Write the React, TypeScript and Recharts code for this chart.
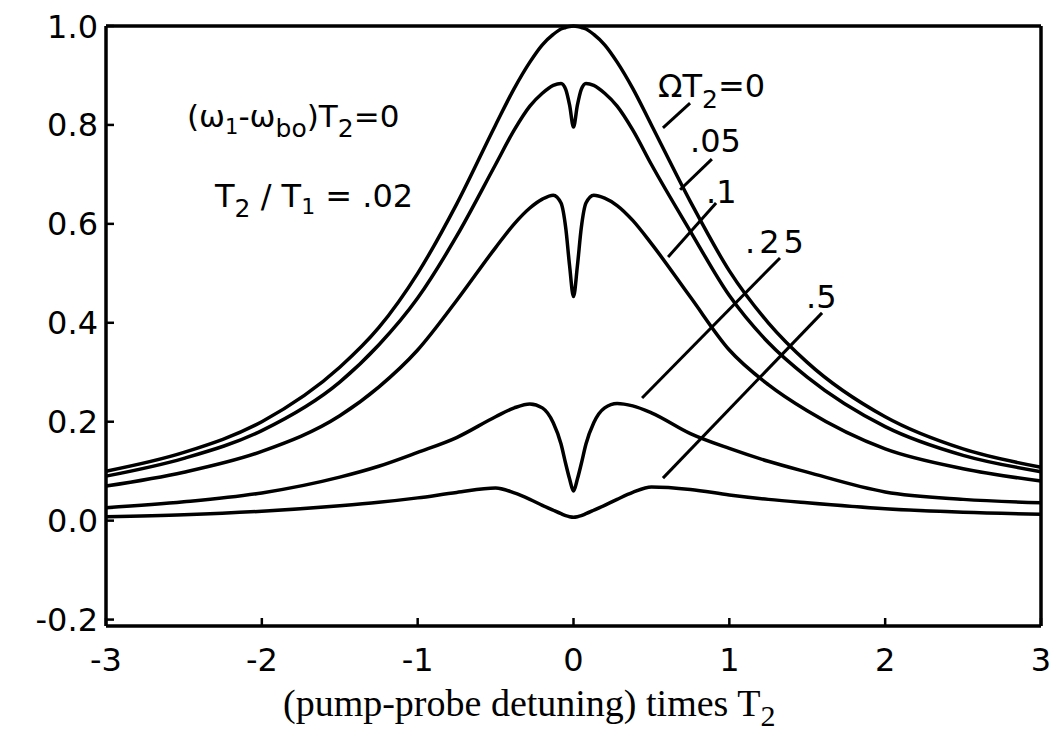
import React from "react";
import { LineChart, Line, XAxis, YAxis, ReferenceLine, Customized } from "recharts";

// detuning (x axis, units of 1/T2)
const detuning = [
  -3, -2.5, -2, -1.5, -1.25, -1, -0.75, -0.5, -0.38, -0.28, -0.2, -0.13, -0.08, -0.05, -0.025,
  0,
  0.025, 0.05, 0.08, 0.13, 0.2, 0.28, 0.38, 0.5, 0.75, 1, 1.25, 1.5, 2, 2.5, 3
];

// probe absorption for each pump strength ΩT2
const omega0 = [
  0.1, 0.138, 0.2, 0.31, 0.39, 0.5, 0.64, 0.8, 0.874, 0.927, 0.962, 0.983, 0.994, 0.997, 0.999,
  1.0,
  0.999, 0.997, 0.994, 0.983, 0.962, 0.927, 0.874, 0.8, 0.645, 0.505, 0.4, 0.32, 0.21, 0.145, 0.108
];
const omega05 = [
  0.09, 0.126, 0.182, 0.28, 0.355, 0.45, 0.575, 0.72, 0.79, 0.838, 0.864, 0.88, 0.884, 0.872, 0.84,
  0.796,
  0.84, 0.872, 0.884, 0.88, 0.864, 0.838, 0.79, 0.72, 0.585, 0.455, 0.36, 0.29, 0.19, 0.132, 0.099
];
const omega1 = [
  0.07, 0.098, 0.14, 0.212, 0.27, 0.345, 0.445, 0.552, 0.6, 0.632, 0.65, 0.658, 0.642, 0.592, 0.515,
  0.453,
  0.515, 0.592, 0.642, 0.658, 0.652, 0.637, 0.607, 0.56, 0.452, 0.345, 0.275, 0.222, 0.145, 0.105, 0.08
];
const omega25 = [
  0.026, 0.038, 0.056, 0.088, 0.11, 0.138, 0.168, 0.21, 0.228, 0.236, 0.228, 0.198, 0.155, 0.115, 0.084,
  0.06,
  0.084, 0.115, 0.155, 0.198, 0.228, 0.237, 0.232, 0.218, 0.176, 0.146, 0.12, 0.098, 0.058, 0.043, 0.036
];
const omega5 = [
  0.008, 0.012, 0.019, 0.03, 0.037, 0.046, 0.057, 0.066, 0.056, 0.043, 0.031, 0.021, 0.014, 0.01, 0.008,
  0.007,
  0.008, 0.01, 0.014, 0.021, 0.031, 0.043, 0.057, 0.068, 0.063, 0.052, 0.043, 0.036, 0.024, 0.017, 0.013
];

const xTicks = [-3, -2, -1, 0, 1, 2, 3];
const yTicks = [-0.2, 0, 0.2, 0.4, 0.6, 0.8, 1.0];

// leader lines from the curve labels, in data units
const leaders = [
  { name: "0", from: [0.748, 0.844], to: [0.574, 0.794] },
  { name: ".05", from: [0.888, 0.731], to: [0.684, 0.669] },
  { name: ".1", from: [0.915, 0.642], to: [0.607, 0.533] },
  { name: ".25", from: [1.325, 0.531], to: [0.44, 0.248] },
  { name: ".5", from: [1.595, 0.42], to: [0.574, 0.086] }
];

const data = detuning.map((x, i) => ({
  x,
  o0: omega0[i],
  o05: omega05[i],
  o1: omega1[i],
  o25: omega25[i],
  o5: omega5[i]
}));

const series = ["o0", "o05", "o1", "o25", "o5"];

const font = "DejaVu Sans, sans-serif";

// tick label plus a short inward tick mark
function XTick(props: any) {
  const { x, y, payload } = props;
  return (
    <g>
      <line x1={x} x2={x} y1={y - 22} y2={y - 30} stroke="#000" strokeWidth={2.5} />
      <text x={x} y={y} dy="0.71em" textAnchor="middle" fontSize={32} fontFamily={font} fill="#000">
        {String(payload.value)}
      </text>
    </g>
  );
}

function YTick(props: any) {
  const { x, y, payload } = props;
  return (
    <g>
      <line x1={x + 8} x2={x + 16} y1={y} y2={y} stroke="#000" strokeWidth={2.5} />
      <text x={x} y={y} dy="0.36em" textAnchor="end" fontSize={32} fontFamily={font} fill="#000">
        {Number(payload.value).toFixed(1)}
      </text>
    </g>
  );
}

function Annotations() {
  return (
    <g fontFamily={font} fill="#000">
      <text x={187} y={127} fontSize={31}>
        <tspan>(ω</tspan>
        <tspan dy={7} fontSize={21}>1</tspan>
        <tspan dy={-7}>-ω</tspan>
        <tspan dy={10} fontSize={25}>bo</tspan>
        <tspan dy={-10}>)T</tspan>
        <tspan dy={10} fontSize={25}>2</tspan>
        <tspan dy={-10}>=0</tspan>
      </text>
      <text x={215} y={207} fontSize={32}>
        <tspan>T</tspan>
        <tspan dy={10} fontSize={25}>2</tspan>
        <tspan dy={-10}> / T</tspan>
        <tspan dy={7} fontSize={22}>1</tspan>
        <tspan dy={-7}>  = .02</tspan>
      </text>
      <text x={658} y={97} fontSize={32}>
        <tspan>ΩT</tspan>
        <tspan dy={11} fontSize={25}>2</tspan>
        <tspan dy={-11}>=0</tspan>
      </text>
      <text x={690} y={152} fontSize={32}>.05</text>
      <text x={706} y={203} fontSize={32}>.1</text>
      <text x={745} y={253} fontSize={32} letterSpacing={4}>.25</text>
      <text x={806} y={308} fontSize={32}>.5</text>
      <text x={283} y={716} fontFamily="Liberation Serif, Times New Roman, serif" fontSize={38}>
        <tspan>(pump-probe detuning) times T</tspan>
        <tspan dy={10} fontSize={30}>2</tspan>
      </text>
    </g>
  );
}

export default function App() {
  return (
    <div style={{ position: "absolute", left: 0, top: 0, width: 1054, height: 745, background: "#fff" }}>
      <LineChart width={1054} height={745} data={data} margin={{ top: 26, right: 13, bottom: 0, left: 0 }}>
        <XAxis
          dataKey="x"
          type="number"
          domain={[-3, 3]}
          ticks={xTicks}
          height={119}
          axisLine={{ stroke: "#000", strokeWidth: 3.5 }}
          tickLine={false}
          tickSize={0}
          tickMargin={22}
          tick={<XTick />}
        />
        <YAxis
          type="number"
          domain={[-0.213, 1]}
          ticks={yTicks}
          width={106}
          axisLine={{ stroke: "#000", strokeWidth: 3.5 }}
          tickLine={false}
          tickSize={0}
          tickMargin={8}
          tick={<YTick />}
        />
        <ReferenceLine y={1} stroke="#000" strokeWidth={3.5} />
        <ReferenceLine x={3} stroke="#000" strokeWidth={3.5} />
        {leaders.map((l) => (
          <ReferenceLine
            key={l.name}
            segment={[
              { x: l.from[0], y: l.from[1] },
              { x: l.to[0], y: l.to[1] }
            ]}
            stroke="#000"
            strokeWidth={3}
          />
        ))}
        {series.map((k) => (
          <Line
            key={k}
            type="monotone"
            dataKey={k}
            stroke="#000"
            strokeWidth={3.5}
            dot={false}
            isAnimationActive={false}
          />
        ))}
        <Customized component={Annotations} />
      </LineChart>
    </div>
  );
}
